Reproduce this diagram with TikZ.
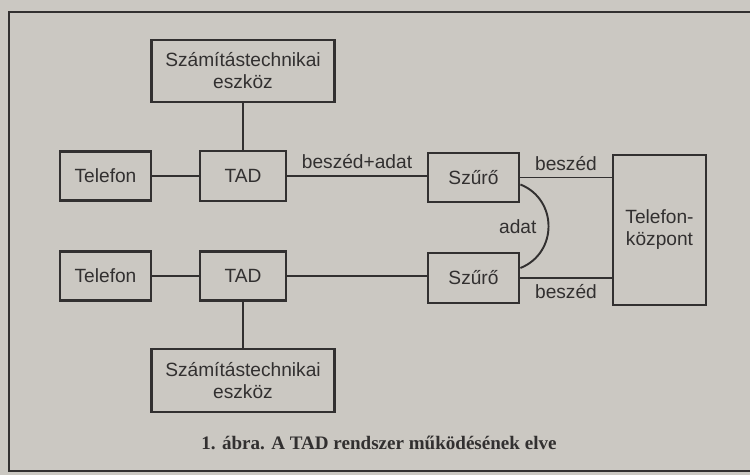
\documentclass[tikz,border=0pt]{standalone}
\usepackage{fontspec}
\setmainfont{Liberation Serif}
\setsansfont{Liberation Sans}
\definecolor{papir}{RGB}{203,200,194}
\definecolor{tinta}{RGB}{50,48,48}
\begin{document}
\begin{tikzpicture}[
        blokk/.style={draw=tinta, line width=1.6pt, text=tinta, align=center,
            font=\sffamily\fontsize{10.9}{12.5}\selectfont},
        vonal/.style={draw=tinta, line width=1.1pt},
        felirat/.style={text=tinta, font=\sffamily\fontsize{10.9}{12.5}\selectfont}
    ]
        \fill [papir] (0, 0) rectangle (15, 9.5);
        \useasboundingbox (0, 0) rectangle (15, 9.5);
        \draw [vonal] (15, 9.26) -- (0.18, 9.26) -- (0.18, 0.08) -- (15, 0.08);
        % upper branch
        \node [blokk, minimum width=3.66cm, minimum height=1.24cm] (szt1) at (4.86, 8.08) {Számítástechnikai\\eszköz};
        \node [blokk, minimum width=1.82cm, minimum height=0.98cm] (tel1) at (2.11, 5.98) {Telefon};
        \node [blokk, minimum width=1.72cm, minimum height=1cm] (tad1) at (4.86, 5.98) {TAD};
        \node [blokk, minimum width=1.82cm, minimum height=0.98cm] (szuro1) at (9.47, 5.95) {Szűrő};
        % lower branch
        \node [blokk, minimum width=1.82cm, minimum height=0.98cm] (tel2) at (2.11, 3.98) {Telefon};
        \node [blokk, minimum width=1.72cm, minimum height=0.98cm] (tad2) at (4.86, 3.98) {TAD};
        \node [blokk, minimum width=1.82cm, minimum height=1cm] (szuro2) at (9.47, 3.94) {Szűrő};
        \node [blokk, minimum width=3.66cm, minimum height=1.26cm] (szt2) at (4.86, 1.89) {Számítástechnikai\\eszköz};
        % exchange
        \node [blokk, minimum width=1.86cm, minimum height=3cm] (kozpont) at (13.19, 4.9) {Telefon-\\központ};
        % connections
        \draw [vonal] (szt1) -- (tad1);
        \draw [vonal] (tel1) -- (tad1);
        \draw [vonal] (tad1.east) -- (tad1.east -| szuro1.west) node [felirat, midway, above] {beszéd+adat};
        \draw [vonal] (szuro1.east) -- (szuro1.east -| kozpont.west) node [felirat, midway, above] {beszéd};
        \draw [vonal] (tel2) -- (tad2);
        \draw [vonal] (tad2) -- (szt2);
        \draw [vonal] (tad2.east) -- (tad2.east -| szuro2.west);
        \draw [vonal] (szuro2.east) -- (szuro2.east -| kozpont.west) node [felirat, midway, below] {beszéd};
        \draw [vonal] ([yshift=-0.14cm]szuro1.east) .. controls +(0.75, -0.3) and +(0.75, 0.3) .. ([yshift=0.2cm]szuro2.east)
            node [felirat, midway, left=3pt] {adat};
        \node [text=tinta, font=\bfseries\fontsize{10.85}{12}\selectfont] (cim) at (7.58, 0.64) {1. ábra. A TAD rendszer működésének elve};
    \end{tikzpicture}
\end{document}
